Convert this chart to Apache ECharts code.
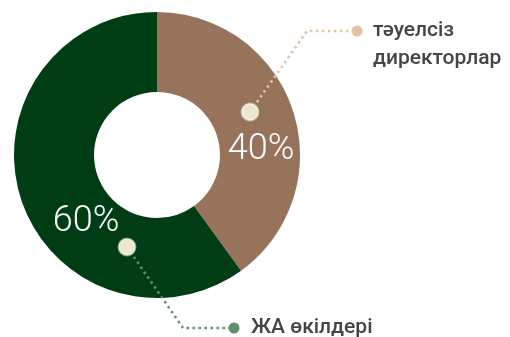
<!DOCTYPE html>
<html>
<head>
<meta charset="utf-8">
<style>
  html, body { margin: 0; padding: 0; background: #ffffff; }
  #chart { width: 510px; height: 337px; }
</style>
<script src="https://cdn.jsdelivr.net/npm/echarts@6/dist/echarts.min.js"></script>
</head>
<body>
<div id="chart"></div>
<script>
// Board composition
const categories = ['тәуелсіз\nдиректорлар', 'ЖА өкілдері'];
const shares = [40, 60];
const sliceColors = ['#98735b', '#003d15'];
const leaderColors = ['#e3c3a3', '#5f8f6c'];

const chart = echarts.init(document.getElementById('chart'), null, { renderer: 'canvas' });

// Percent label placement inside each slice
const percentPos = [[261, 150], [86, 222]];

// Callout geometry: marker in slice, elbow, end dot, text anchor
const callouts = [
  { marker: [250, 112], elbow: [307, 31], end: [357, 31], text: [373, 45], lineH: 28 },
  { marker: [127, 247], elbow: [183, 328], end: [234, 328], text: [251, 328], lineH: 28 }
];

const graphics = [];
callouts.forEach((c, i) => {
  graphics.push({
    type: 'polyline',
    shape: { points: [c.marker, c.elbow, c.end] },
    style: { stroke: leaderColors[i], lineWidth: 2.6, lineDash: [2.4, 3.6], fill: null },
    z: 10
  });
  graphics.push({
    type: 'circle',
    shape: { cx: c.end[0], cy: c.end[1], r: 5.5 },
    style: { fill: leaderColors[i] },
    z: 11
  });
  graphics.push({
    type: 'circle',
    shape: { cx: c.marker[0], cy: c.marker[1], r: 8.5 },
    style: { fill: '#efe8cd', stroke: 'rgba(255,255,255,0.45)', lineWidth: 2 },
    z: 12
  });
  graphics.push({
    type: 'text',
    x: c.text[0],
    y: c.text[1],
    style: {
      text: categories[i],
      fill: '#454545',
      font: '500 21px Roboto, "Noto Sans", sans-serif',
      lineHeight: c.lineH,
      verticalAlign: 'middle',
      align: 'left'
    },
    z: 12
  });
});

chart.setOption({
  animation: false,
  backgroundColor: '#ffffff',
  series: [{
    type: 'pie',
    center: [157, 155],
    radius: [63, 143],
    startAngle: 90,
    clockwise: true,
    avoidLabelOverlap: false,
    emphasis: { disabled: true },
    data: shares.map((v, i) => ({
      name: categories[i],
      value: v,
      itemStyle: { color: sliceColors[i] }
    })),
    label: {
      show: true,
      position: 'inside',
      formatter: '{d}%',
      color: '#ffffff',
      fontSize: 36,
      fontWeight: 300,
      fontFamily: 'Roboto, "Noto Sans", sans-serif'
    },
    labelLine: { show: false },
    labelLayout: function (params) {
      const p = percentPos[params.dataIndex];
      return { x: p[0], y: p[1], align: 'center', verticalAlign: 'middle' };
    }
  }],
  graphic: graphics
});
</script>
</body>
</html>
